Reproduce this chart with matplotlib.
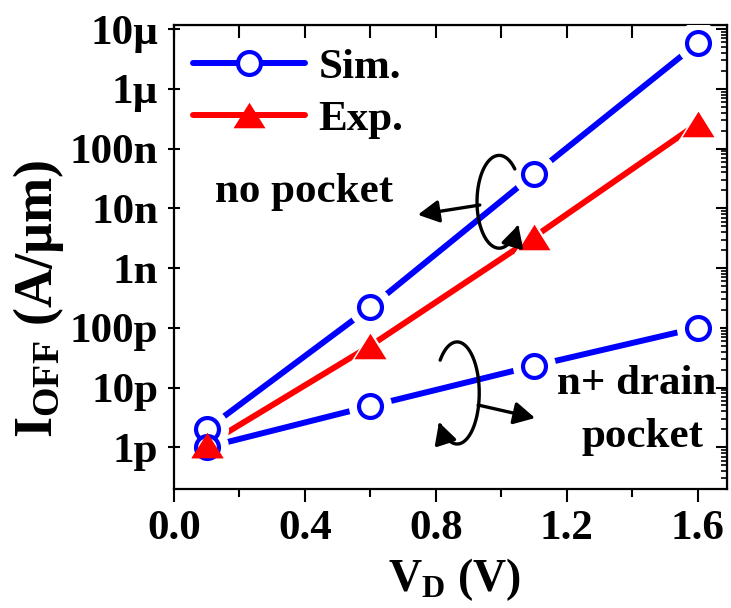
import numpy as np
import matplotlib
matplotlib.use('Agg')
import matplotlib.pyplot as plt
from matplotlib.path import Path
from matplotlib.patches import FancyArrowPatch
from matplotlib.ticker import FixedLocator, FixedFormatter, LogLocator, NullFormatter, MultipleLocator

# drain voltage (V) and off-state current (A/um)
vd = [0.1, 0.6, 1.1, 1.6]
sim_no_pocket = [2.0e-12, 2.2e-10, 3.7e-8, 5.8e-6]
exp_no_pocket = [1.1e-12, 5.0e-11, 3.3e-9, 2.6e-7]
sim_pocket = [1.0e-12, 4.9e-12, 2.3e-11, 1.0e-10]

ytick_vals = [1e-12, 1e-11, 1e-10, 1e-9, 1e-8, 1e-7, 1e-6, 1e-5]
ytick_labels = ['1p', '10p', '100p', '1n', '10n', '100n', '1µ', '10µ']
xtick_vals = [0.0, 0.4, 0.8, 1.2, 1.6]

plt.rcParams['font.family'] = ['Liberation Serif', 'DejaVu Serif']
plt.rcParams['font.weight'] = 'bold'
plt.rcParams['axes.labelweight'] = 'bold'
plt.rcParams['mathtext.fontset'] = 'custom'
plt.rcParams['mathtext.rm'] = 'Liberation Serif:bold'
plt.rcParams['mathtext.it'] = 'Liberation Serif:bold'
plt.rcParams['mathtext.bf'] = 'Liberation Serif:bold'

BLUE = '#0000ff'
RED = '#ff0000'
tri = [(-1.0, -0.8), (1.0, -0.8), (0.0, 0.8)]

fig = plt.figure(figsize=(7.31, 6.08), dpi=100)
ax = fig.add_axes([0.238, 0.1957, 0.7565, 0.7632])
ax.set_yscale('log')

line_kw = dict(lw=4.3, solid_capstyle='round')
circ_kw = dict(marker='o', ms=16.5, mfc='white', mec=BLUE, mew=3.0)
tri_kw = dict(marker=tri, ms=23, mfc=RED, mec=RED, mew=0)

h_sim, = ax.plot(vd, sim_no_pocket, color=BLUE, zorder=2, **line_kw, **circ_kw)
ax.plot(vd, sim_pocket, color=BLUE, zorder=2, **line_kw, **circ_kw)
h_exp, = ax.plot(vd, exp_no_pocket, color=RED, zorder=2, **line_kw, **tri_kw)

# white halos leave a gap between the line ends and the symbols
for ys in (sim_no_pocket, sim_pocket):
    ax.plot(vd, ys, ls='none', marker='o', ms=30, mfc='white', mec='white', zorder=3)
ax.plot(vd, exp_no_pocket, ls='none', marker=tri, ms=28, mfc='white', mec='white', zorder=3)
ax.plot(vd, exp_no_pocket, ls='none', zorder=4, **tri_kw)
for ys in (sim_no_pocket, sim_pocket):
    ax.plot(vd, ys, ls='none', zorder=5, **circ_kw)
# the experimental symbol sits on top of the lower circle at the first bias
ax.plot(vd[:1], exp_no_pocket[:1], ls='none', zorder=6, **tri_kw)

ax.set_xlim(0, 1.69)
ax.set_ylim(2e-13, 1.17e-5)

ax.xaxis.set_major_locator(FixedLocator(xtick_vals))
ax.xaxis.set_minor_locator(MultipleLocator(0.2))
ax.yaxis.set_major_locator(FixedLocator(ytick_vals))
ax.yaxis.set_major_formatter(FixedFormatter(ytick_labels))
ax.yaxis.set_minor_locator(LogLocator(base=10, subs=np.arange(2, 10)))
ax.yaxis.set_minor_formatter(NullFormatter())

ax.tick_params(axis='x', which='major', direction='out', length=9, width=1.5, labelsize=31, pad=6)
ax.tick_params(axis='x', which='minor', direction='out', length=6, width=1.5)
ax.tick_params(axis='y', which='major', direction='inout', length=9, width=1.5, labelsize=31, pad=7)
ax.tick_params(axis='y', which='minor', direction='in', length=4, width=1.2)
for s in ax.spines.values():
    s.set_linewidth(1.6)

top = ax.secondary_xaxis('top')
top.xaxis.set_major_locator(MultipleLocator(0.2))
top.tick_params(direction='in', length=9, width=1.5, labeltop=False)
right = ax.secondary_yaxis('right')
right.yaxis.set_major_locator(FixedLocator(ytick_vals))
right.yaxis.set_minor_locator(LogLocator(base=10, subs=np.arange(2, 10)))
right.yaxis.set_minor_formatter(NullFormatter())
right.tick_params(which='major', direction='in', length=8, width=1.5, labelright=False)
right.tick_params(which='minor', direction='in', length=4, width=1.2)

ax.set_xlabel(r'V$_{\rm D}$ (V)', fontsize=33)
ax.xaxis.set_label_coords(0.508, -0.145)
ax.set_ylabel(r'I$_{\rm OFF}$ (A/µm)', fontsize=39)
ax.yaxis.set_label_coords(-0.196, 0.41)

ax.legend([h_sim, h_exp], ['Sim.', 'Exp.'], loc='upper left', bbox_to_anchor=(0.035, 0.95),
          frameon=False, fontsize=31, handlelength=2.6, handletextpad=0.3,
          labelspacing=0.3, borderpad=0, borderaxespad=0)

ax.text(0.235, 0.64, 'no pocket', transform=ax.transAxes, fontsize=31,
        ha='center', va='center')
ax.text(0.837, 0.226, 'n+ drain', transform=ax.transAxes, fontsize=31,
        ha='center', va='center')
ax.text(0.848, 0.112, 'pocket', transform=ax.transAxes, fontsize=31,
        ha='center', va='center')


def loop_arrow(cx, cy, rx, ry, a0, a1):
    t = np.radians(np.linspace(a0, a1, 80))
    verts = np.column_stack([cx + rx * np.cos(t), cy + ry * np.sin(t)])
    arr = FancyArrowPatch(path=Path(verts), transform=ax.transAxes,
                          arrowstyle='-|>,head_length=0.75,head_width=0.4',
                          mutation_scale=17, lw=2.4, color='black', zorder=7)
    ax.add_patch(arr)


def straight_arrow(p0, p1):
    ax.annotate('', xy=p1, xytext=p0, xycoords='axes fraction',
                arrowprops=dict(arrowstyle='-|>,head_length=0.75,head_width=0.4',
                                mutation_scale=17, lw=2.4, color='black',
                                shrinkA=0, shrinkB=0), zorder=7)


# rotation loops around each pair of curves
loop_arrow(0.588, 0.619, 0.040, 0.100, 45, 330)
straight_arrow((0.553, 0.612), (0.441, 0.591))
loop_arrow(0.512, 0.207, 0.040, 0.110, 140, -145)
straight_arrow((0.550, 0.181), (0.653, 0.153))

fig.savefig('out.png', dpi=100)
